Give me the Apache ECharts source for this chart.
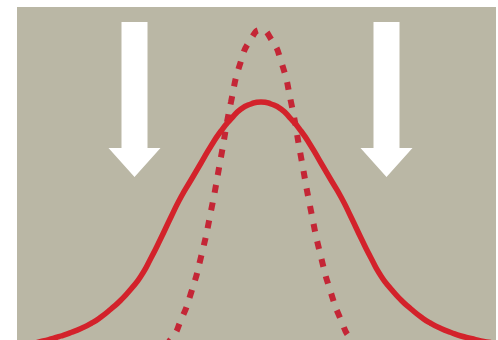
<!DOCTYPE html>
<html>
<head>
<meta charset="utf-8">
<script src="https://cdn.jsdelivr.net/npm/echarts@6/dist/echarts.min.js"></script>
<style>
html,body{margin:0;padding:0;background:#ffffff;}
#c{width:498px;height:340px;}
</style>
</head>
<body>
<div id="c"></div>
<script>
// x positions (shared)
var xs = [4,14,24,34,44,54,64,74,84,94,104,114,124,134,144,154,164,174,184,194,204,214,224,234,244,254,264,274,284,294,304,314,324,334,344,354,364,374,384,394,404,414,424,434,444,454,464,474];
// wide distribution (solid)
var solidValues = [0.5,1.5,3.5,6,9,12.5,16.5,21.5,28,36,45,56,69,87,107,128,148,165,182,199,214,226,236,241,243,241,236,226,214,199,182,165,148,128,107,87,69,56,45,36,28,21.5,16.5,12.5,9,6.5,4,2.5];
// narrow distribution (dashed)
var dashedValues = [0,0,0,0,0,0,0,0,0,0,0,0,0,0,0,6,25,52,88,134,188,243,284,306,315,306,284,243,188,134,88,52,25,6,0,0,0,0,0,0,0,0,0,0,0,0,0,0];
// arrow positions
var arrowX = [117.5, 369.5];
var arrowY = [245.5, 245.5];

function pairs(a, b){ var r=[]; for (var i=0;i<a.length;i++) r.push([a[i], b[i]]); return r; }

var chart = echarts.init(document.getElementById('c'), null, {renderer:'canvas'});
chart.setOption({
  animation: false,
  grid: {left: 17, right: 2, top: 7, bottom: 0, show: true, backgroundColor: '#bab7a5', borderWidth: 0},
  xAxis: {type: 'value', min: 0, max: 479, show: false},
  yAxis: {type: 'value', min: 5, max: 338, show: false},
  series: [
    {
      type: 'scatter', silent: true, z: 1,
      symbol: 'path://M13 0 L39 0 L39 126 L52 126 L26 155 L0 126 L13 126 Z',
      symbolSize: [52, 155],
      itemStyle: {color: '#ffffff', opacity: 1},
      data: pairs(arrowX, arrowY)
    },
    {
      type: 'line', silent: true, z: 3, smooth: 0.6, showSymbol: false,
      lineStyle: {color: '#c42636', width: 6, type: [8, 10], cap: 'butt'},
      data: pairs(xs, dashedValues)
    },
    {
      type: 'line', silent: true, z: 4, smooth: 0.6, showSymbol: false,
      lineStyle: {color: '#d3222b', width: 5.5},
      data: pairs(xs, solidValues)
    }
  ]
});
</script>
</body>
</html>
